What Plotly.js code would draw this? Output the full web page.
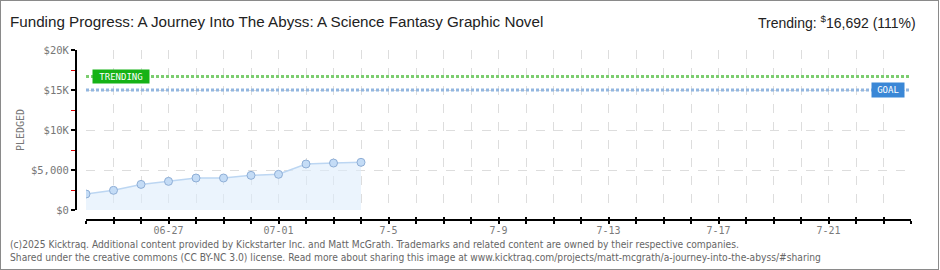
<!DOCTYPE html>
<html>
<head>
<meta charset="utf-8">
<script src="https://cdn.plot.ly/plotly-3.0.1.min.js"></script>
<style>
  html, body { margin:0; padding:0; background:#fff; }
  #wrap { position:relative; width:940px; height:270px; }
  #chart { width:940px; height:270px; }
  #frame { position:absolute; left:0; top:0; width:937px; height:268px; border:1px solid #8a8a8a; pointer-events:none; }
</style>
</head>
<body>
<div id="wrap"><div id="chart"></div><div id="frame"></div></div>
<script>
// ---- data ----
const dates = ['2025-06-24','2025-06-25','2025-06-26','2025-06-27','2025-06-28','2025-06-29','2025-06-30','2025-07-01','2025-07-02','2025-07-03','2025-07-04'];
const pledged = [2000, 2460, 3200, 3580, 4000, 4000, 4330, 4460, 5750, 5870, 5960];
const trendingValue = 16692;
const goalValue = 15000;
const xRange = ['2025-06-24','2025-07-24'];
const xLabelDates = ['2025-06-27','2025-07-01','2025-07-05','2025-07-09','2025-07-13','2025-07-17','2025-07-21'];
const xLabelText = ['06-27','07-01','7-5','7-9','7-13','7-17','7-21'];
const yTickVals = [0, 5000, 10000, 15000, 20000];
const yTickText = ['$0','$5,000','$10K','$15K','$20K'];
const titleText = 'Funding Progress: A Journey Into The Abyss: A Science Fantasy Graphic Novel';
const trendText = 'Trending: <sup>$</sup>16,692 (111%)';
const footer1 = '(c)2025 Kicktraq. Additional content provided by Kickstarter Inc. and Matt McGrath. Trademarks and related content are owned by their respective companies.';
const footer2 = 'Shared under the creative commons (CC BY-NC 3.0) license. Read more about sharing this image at www.kicktraq.com/projects/matt-mcgrath/a-journey-into-the-abyss/#sharing';

// ---- geometry helpers (pixel -> paper) ----
const L = 76, R = 29, T = 50, B = 50, W = 940 - L - R, H = 270 - T - B;
const px = x => (x - L) / W;
const py = y => (270 - B - y) / H;
const DAY = 86400000;
const mono = 'DejaVu Sans Mono, monospace';
const narrow = 'Liberation Sans Narrow, sans-serif';

const traces = [
  {
    x: dates, y: pledged, type: 'scatter', mode: 'lines+markers',
    fill: 'tozeroy', fillcolor: 'rgba(222,236,251,0.6)',
    line: { color: '#bcd6f2', width: 1.5 },
    marker: { size: 8, color: '#c4dcf6', line: { color: '#8eaed6', width: 1 } },
    hoverinfo: 'skip', xaxis: 'x', yaxis: 'y'
  },
  { x: dates, y: pledged, xaxis: 'x2', yaxis: 'y', mode: 'markers', marker: { opacity: 0 }, hoverinfo: 'skip', showlegend: false },
  { x: dates, y: pledged, xaxis: 'x3', yaxis: 'y', mode: 'markers', marker: { opacity: 0 }, hoverinfo: 'skip', showlegend: false }
];

const baseX = {
  type: 'date', range: xRange, domain: [10 / W, 1], anchor: 'free', position: 0
};

const layout = {
  width: 940, height: 270,
  margin: { l: L, r: R, t: T, b: B, pad: 0 },
  paper_bgcolor: '#fff', plot_bgcolor: 'rgba(0,0,0,0)',
  showlegend: false,
  title: {
    text: titleText, x: 10 / 940, xanchor: 'left', xref: 'container',
    y: 1 - 22 / 270, yanchor: 'middle', yref: 'container',
    font: { family: narrow, size: 15.2, color: '#222' }
  },
  xaxis: Object.assign({}, baseX, {
    showline: true, linecolor: '#000', linewidth: 2,
    ticks: 'outside', ticklen: 3, tickwidth: 2, tickcolor: '#000',
    tick0: xRange[0], dtick: DAY, showticklabels: false,
    showgrid: true, gridcolor: '#dddddd', griddash: 'dash', gridwidth: 1,
    zeroline: false
  }),
  xaxis2: Object.assign({}, baseX, {
    overlaying: 'x', showline: false, showgrid: false, zeroline: false,
    tickmode: 'array', tickvals: xLabelDates, ticktext: xLabelText,
    ticks: '', ticklabelstandoff: 3,
    tickfont: { family: mono, size: 10, color: '#7a7a7a' }
  }),
  xaxis3: Object.assign({}, baseX, {
    overlaying: 'x', showline: false, showgrid: false, zeroline: false,
    ticks: 'inside', ticklen: 3, tickwidth: 2, tickcolor: '#000',
    tick0: xRange[0], dtick: DAY, showticklabels: false
  }),
  yaxis: {
    range: [0, 20000], domain: [10 / H, 1], anchor: 'free', position: 0,
    tickmode: 'array', tickvals: yTickVals, ticktext: yTickText,
    ticks: 'outside', ticklen: 4, tickwidth: 2, tickcolor: '#000',
    showline: true, linecolor: '#000', linewidth: 2,
    showgrid: true, gridcolor: '#dddddd', griddash: 'dash', gridwidth: 1,
    zeroline: false,
    tickfont: { family: mono, size: 10.5, color: '#777' },
    minor: { tick0: 2500, dtick: 5000, ticks: 'outside', ticklen: 4, tickwidth: 1, tickcolor: '#e00000', showgrid: false },
    title: { text: 'PLEDGED', standoff: 3, font: { family: mono, size: 10, color: '#777' } }
  },
  shapes: [
    { type: 'line', xref: 'x', yref: 'y', x0: xRange[0], x1: xRange[1], y0: trendingValue, y1: trendingValue,
      line: { color: '#7ccd70', width: 3, dash: '3px,2px' } },
    { type: 'line', xref: 'x', yref: 'y', x0: xRange[0], x1: xRange[1], y0: goalValue, y1: goalValue,
      line: { color: '#92b6e0', width: 3, dash: '3px,2px' } }
  ],
  annotations: [
    { text: 'TRENDING', xref: 'paper', yref: 'y', x: px(121), y: trendingValue, xanchor: 'center', yanchor: 'middle',
      showarrow: false, bgcolor: '#16b216', borderpad: 1, width: 54, height: 11,
      font: { family: mono, size: 9, color: '#fff' } },
    { text: 'GOAL', xref: 'paper', yref: 'y', x: px(888), y: goalValue, xanchor: 'center', yanchor: 'middle',
      showarrow: false, bgcolor: '#3a87d6', borderpad: 1, width: 30, height: 12,
      font: { family: mono, size: 9, color: '#fff' } },
    { text: trendText, xref: 'paper', yref: 'paper', x: px(918), y: py(22), xanchor: 'right', yanchor: 'middle',
      showarrow: false, font: { family: narrow, size: 14, color: '#222' } },
    { text: footer1, xref: 'paper', yref: 'paper', x: px(8), y: py(244), xanchor: 'left', yanchor: 'middle',
      showarrow: false, align: 'left', font: { family: 'DejaVu Sans Condensed, sans-serif', size: 10.2, color: '#666' } },
    { text: footer2, xref: 'paper', yref: 'paper', x: px(8), y: py(257), xanchor: 'left', yanchor: 'middle',
      showarrow: false, align: 'left', font: { family: 'DejaVu Sans Condensed, sans-serif', size: 10.2, color: '#666' } }
  ]
};

Plotly.newPlot('chart', traces, layout, { staticPlot: true, displayModeBar: false });
</script>
</body>
</html>
